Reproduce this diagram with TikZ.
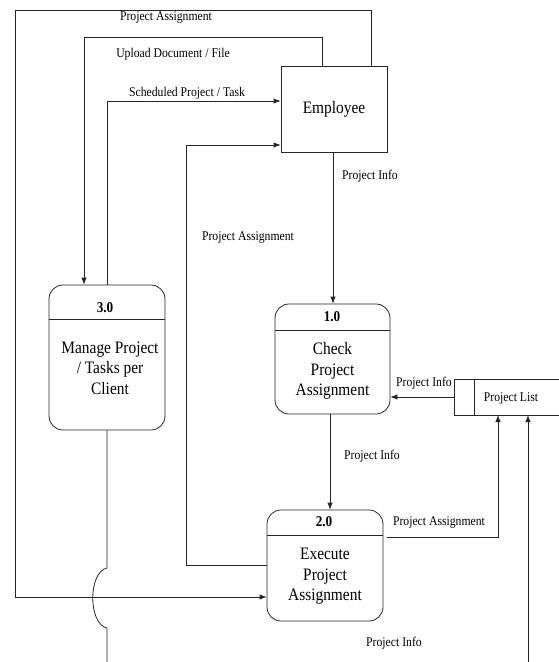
\documentclass[tikz,border=0pt]{standalone}
\usepackage{fontspec}
\setmainfont{Liberation Serif}[FakeStretch=0.88]
\usetikzlibrary{arrows.meta}
\begin{document}
\begin{tikzpicture}[x=1pt,y=-1pt,
  line/.style={draw=black!85, line width=0.8pt},
  flow/.style={line, -{Latex[length=7pt,width=5.5pt]}},
  entity/.style={line, rectangle, minimum width=106pt, minimum height=86pt, inner sep=0pt,
                 font=\fontsize{17.5}{20.5}\selectfont},
  proc/.style={line, rectangle, rounded corners=14pt, inner sep=0pt},
  ptitle/.style={font=\fontsize{15}{18}\selectfont\bfseries, inner sep=0pt},
  pbody/.style={align=center, inner sep=0pt, font=\fontsize{17.5}{20.5}\selectfont},
  lbl/.style={font=\fontsize{13.3}{15}\selectfont, inner sep=0pt}
]
\path[use as bounding box] (0,0) rectangle (559,662);

% external entity
\node[entity] (emp) at (334,109) {Employee};

% processes
\node[proc, minimum width=116pt, minimum height=145pt] (p3) at (107,357.5) {};
\node[ptitle] (p3t) at (105,308) {3.0};
\draw[line] ([yshift=-35pt]p3.north west) -- ([yshift=-35pt]p3.north east);
\node[pbody] (p3b) at (110,368) {Manage Project\\/ Tasks per\\Client};

\node[proc, minimum width=115pt, minimum height=110pt] (p1) at (332.5,359) {};
\node[ptitle] (p1t) at (332,317) {1.0};
\draw[line] ([yshift=-27pt]p1.north west) -- ([yshift=-27pt]p1.north east);
\node[pbody] (p1b) at (332.5,371) {Check\\Project\\Assignment};

\node[proc, minimum width=116pt, minimum height=111pt] (p2) at (325,565.5) {};
\node[ptitle] (p2t) at (324,522) {2.0};
\draw[line] ([yshift=-26pt]p2.north west) -- ([yshift=-26pt]p2.north east);
\node[pbody] (p2b) at (325,576.5) {Execute\\Project\\Assignment};

% data store
\coordinate (sNW) at (454,379);
\coordinate (sSW) at (454,415);
\coordinate (sW) at (454,397);
\draw[line] (559,379) -- (sNW) -- (sSW) -- (559,415);
\draw[line] (474,379) -- (474,415);
\node[lbl] (pl) at (511,399) {Project List};

% outer loop: Employee -> 2.0
\coordinate (c1) at (371,10);
\coordinate (c2) at (15,10);
\coordinate (c3) at (15,597);
\draw[flow] (emp.north -| c1) -- (c1) -- (c2) -- (c3) -- (c3 -| p2.west);
\node[lbl] (l1) at (166,18) {Project Assignment};

% Employee -> 3.0
\coordinate (u1) at (322,37);
\coordinate (u2) at (84,37);
\draw[flow] (emp.north -| u1) -- (u1) -- (u2) -- (u2 |- p3.north);
\node[lbl] (l2) at (173,54) {Upload Document / File};

% 3.0 -> Employee
\coordinate (s1) at (107,101);
\draw[flow] (p3.north -| s1) -- (s1) -- (s1 -| emp.west);
\node[lbl] (l3) at (187,93) {Scheduled Project / Task};

% 2.0 -> Employee
\coordinate (a1) at (186,565);
\coordinate (a2) at (186,145);
\draw[flow] (a1 -| p2.west) -- (a1) -- (a2) -- (a2 -| emp.west);
\node[lbl] (l4) at (248,238) {Project Assignment};

% Employee -> 1.0
\coordinate (e1) at (333,0);
\draw[flow] (emp.south -| e1) -- (p1.north -| e1);
\node[lbl] (l5) at (370,176) {Project Info};

% Project List -> 1.0
\draw[flow] (sW) -- (sW -| p1.east);
\node[lbl] (l6) at (424,383) {Project Info};

% 1.0 -> 2.0
\coordinate (m1) at (330,0);
\draw[flow] (p1.south -| m1) -- (p2.north -| m1);
\node[lbl] (l7) at (372,456) {Project Info};

% 2.0 -> Project List
\coordinate (r1) at (387,537);
\coordinate (r2) at (498,537);
\draw[flow] (r1) -- (r2) -- (r2 |- sSW);
\node[lbl] (l8) at (439,523) {Project Assignment};

% incoming flow -> Project List
\coordinate (b1) at (528,662);
\draw[flow] (b1) -- (b1 |- sSW);
\node[lbl] (l9) at (394,643) {Project Info};

% 3.0 outgoing flow, hopping over the outer loop
\coordinate (h1) at (107,568);
\coordinate (h2) at (107,628);
\coordinate (h3) at (107,662);
\draw[line] (p3.south -| h1) -- (h1) .. controls (88,572) and (88,624) .. (h2) -- (h3);
\end{tikzpicture}
\end{document}
